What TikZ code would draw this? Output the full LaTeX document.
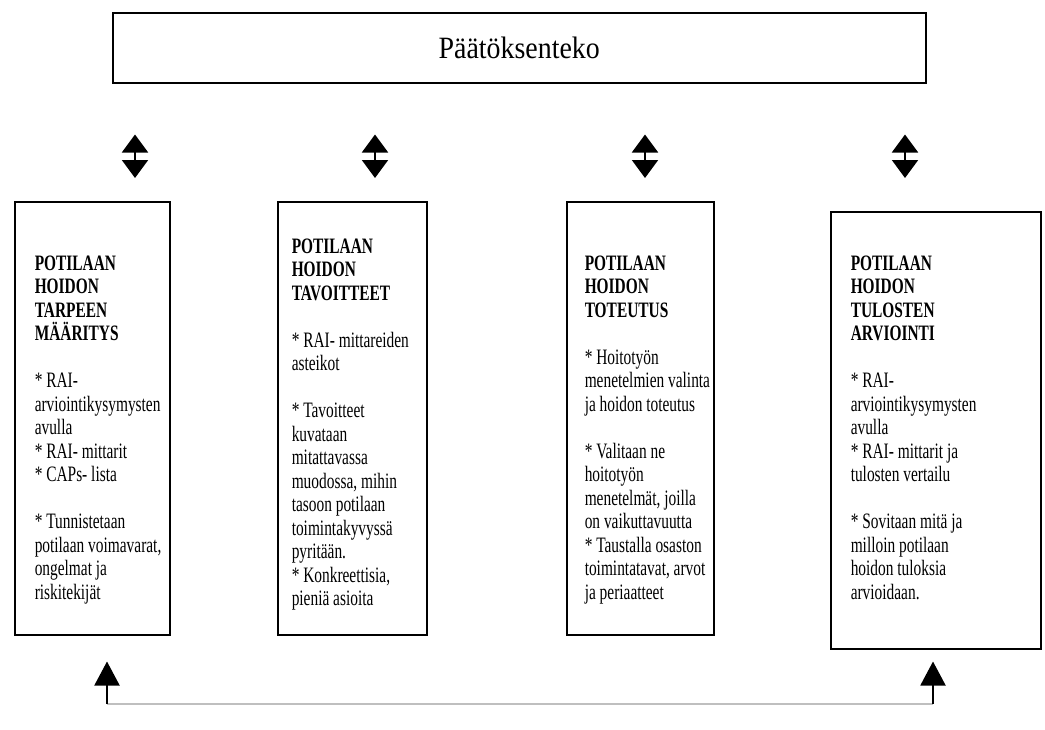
\documentclass[tikz,border=0pt]{standalone}
\usepackage{fontspec}
\setmainfont{Liberation Serif}[FakeStretch=0.70]
\newfontfamily\topfont{Liberation Serif}[FakeStretch=0.90]
\usepackage{tikz}
\usetikzlibrary{arrows,arrows.meta,positioning,calc}

\begin{document}
\begin{tikzpicture}[x=1pt, y=-1pt, line width=1.5pt,
  font=\fontsize{22}{23.5}\selectfont]
\tikzstyle{box}=[draw=black, anchor=north west, minimum height=433pt, inner sep=0pt]
\tikzstyle{txt}=[align=left, inner sep=0pt, anchor=north west]
\tikzstyle{dbl}=[{Triangle[width=26pt,length=18pt]}-{Triangle[width=26pt,length=18pt]}, line width=2pt]
\tikzstyle{up}=[-{Triangle[width=25pt,length=24pt]}, line width=2pt]
\useasboundingbox (0,0) rectangle (1045,729);

\node[draw, anchor=north west, minimum width=813pt, minimum height=70pt,
      font=\topfont\fontsize{31}{33}\selectfont] (paatos) at (112,12) {Päätöksenteko};

\node[box, minimum width=155pt] (b1) at (14,201)  {};
\node[box, minimum width=149pt] (b2) at (277,201) {};
\node[box, minimum width=147pt] (b3) at (566,201) {};
\node[box, minimum width=210pt, minimum height=437pt] (b4) at (830,211) {};

\node[txt, below right=54pt and 20pt of b1.north west] (t1)
  {\textbf{POTILAAN}\\ \textbf{HOIDON}\\ \textbf{TARPEEN}\\ \textbf{MÄÄRITYS}\\[23.5pt]
   * RAI-\\ arviointikysymysten\\ avulla\\ * RAI- mittarit\\ * CAPs- lista\\[23.5pt]
   * Tunnistetaan\\ potilaan voimavarat,\\ ongelmat ja\\ riskitekijät};
\node[txt, below right=37pt and 14pt of b2.north west] (t2)
  {\textbf{POTILAAN}\\ \textbf{HOIDON}\\ \textbf{TAVOITTEET}\\[23.5pt]
   * RAI- mittareiden\\ asteikot\\[23.5pt]
   * Tavoitteet\\ kuvataan\\ mitattavassa\\ muodossa, mihin\\ tasoon potilaan\\ toimintakyvyssä\\ pyritään.\\
   * Konkreettisia,\\ pieniä asioita};
\node[txt, below right=54pt and 18pt of b3.north west] (t3)
  {\textbf{POTILAAN}\\ \textbf{HOIDON}\\ \textbf{TOTEUTUS}\\[23.5pt]
   * Hoitotyön\\ menetelmien valinta\\ ja hoidon toteutus\\[23.5pt]
   * Valitaan ne\\ hoitotyön\\ menetelmät, joilla\\ on vaikuttavuutta\\
   * Taustalla osaston\\ toimintatavat, arvot\\ ja periaatteet};
\node[txt, below right=44pt and 20pt of b4.north west] (t4)
  {\textbf{POTILAAN}\\ \textbf{HOIDON}\\ \textbf{TULOSTEN}\\ \textbf{ARVIOINTI}\\[23.5pt]
   * RAI-\\ arviointikysymysten\\ avulla\\ * RAI- mittarit ja\\ tulosten vertailu\\[23.5pt]
   * Sovitaan mitä ja\\ milloin potilaan\\ hoidon tuloksia\\ arvioidaan.};

% double arrows between decision box and phases
\coordinate (d1) at (135,0);
\coordinate (d2) at (375,0);
\coordinate (d3) at (645,0);
\coordinate (d4) at (905,0);
\draw[dbl, shorten <=51pt, shorten >=23pt] (paatos.south -| d1) -- (b1.north -| d1);
\draw[dbl, shorten <=51pt, shorten >=23pt] (paatos.south -| d2) -- (b2.north -| d2);
\draw[dbl, shorten <=51pt, shorten >=23pt] (paatos.south -| d3) -- (b3.north -| d3);
\draw[dbl, shorten <=51pt, shorten >=33pt] (paatos.south -| d4) -- (b4.north -| d4);

% feedback from evaluation back to assessment
\coordinate (c1) at (107,704);
\coordinate (c4) at (933,704);
\draw[gray!50, line width=1.2pt] (c1) -- (c4);
\draw[up, shorten >=26pt] (c1) -- (c1 |- b1.south);
\draw[up, shorten >=12pt] (c4) -- (c4 |- b4.south);
\end{tikzpicture}
\end{document}
